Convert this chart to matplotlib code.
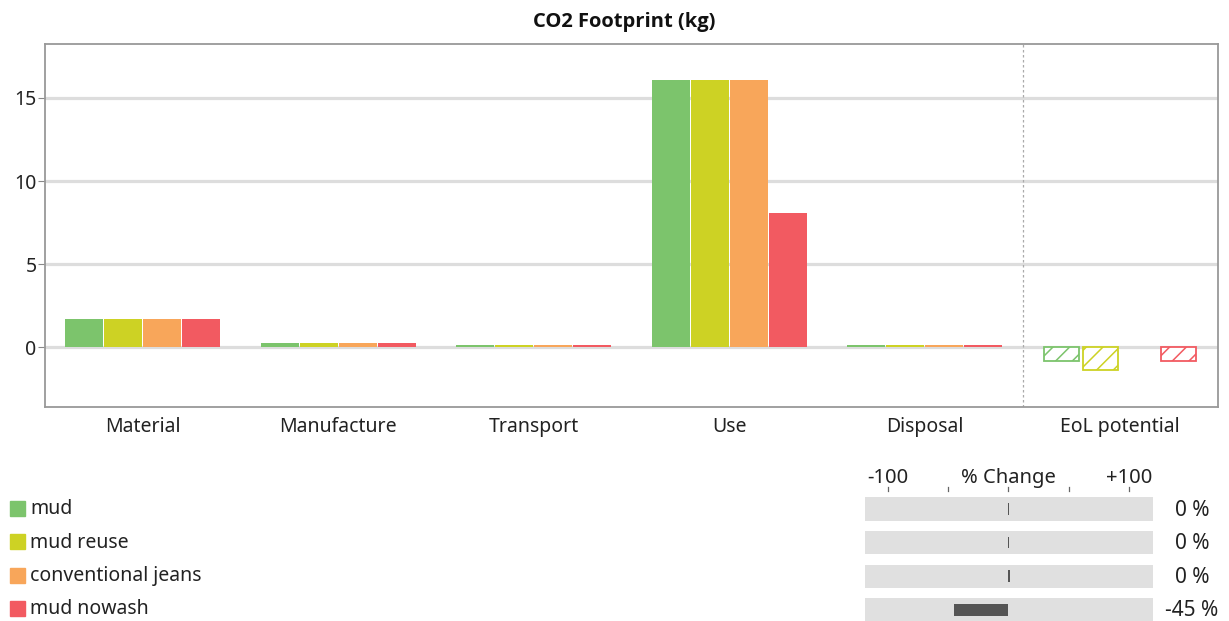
import matplotlib
matplotlib.use("Agg")
import matplotlib.pyplot as plt
import numpy as np
from matplotlib.patches import Rectangle

plt.rcParams['font.family'] = ['Noto Sans', 'DejaVu Sans']
plt.rcParams['hatch.linewidth'] = 1.1

categories = ["Material", "Manufacture", "Transport", "Use", "Disposal", "EoL potential"]
series = ["mud", "mud reuse", "conventional jeans", "mud nowash"]
colors = ["#7CC46C", "#CDD224", "#F8A65A", "#F25A61"]
values = {
    "mud":                [1.68, 0.25, 0.12, 16.1, 0.12, -0.85],
    "mud reuse":          [1.68, 0.25, 0.12, 16.1, 0.12, -1.35],
    "conventional jeans": [1.68, 0.25, 0.12, 16.1, 0.12, 0.0],
    "mud nowash":         [1.68, 0.25, 0.12, 8.07, 0.12, -0.85],
}
yticks = [0, 5, 10, 15]
pct_change = [0, 0, 0, -45]
pct_labels = ["0 %", "0 %", "0 %", "-45 %"]

W, H = 1229, 621
fig = plt.figure(figsize=(W / 100, H / 100), dpi=100)

def fr(x0, y0, x1, y1):
    return [x0 / W, 1 - y1 / H, (x1 - x0) / W, (y1 - y0) / H]

TXT = "#222222"
ax = fig.add_axes(fr(45, 44, 1218, 407))
x = np.arange(len(categories))
bw = 0.2
for i, s in enumerate(series):
    vals = values[s]
    offs = x + (i - 1.5) * bw
    ax.bar(offs[:-1], vals[:-1], width=bw * 0.975, color=colors[i],
           linewidth=0, zorder=3)
    if vals[-1] != 0:
        ax.bar(offs[-1], vals[-1], width=bw * 0.9, facecolor="white",
               edgecolor=colors[i], hatch="//", linewidth=1.3, zorder=3)

ax.set_xlim(-0.5, len(categories) - 0.5)
ax.set_ylim(-3.6, 18.25)
ax.set_yticks(yticks)
ax.set_yticklabels([str(t) for t in yticks], fontsize=14, color=TXT)
ax.set_xticks(x)
ax.set_xticklabels(categories, fontsize=14, color=TXT)
ax.tick_params(axis="x", length=0, pad=7)
ax.tick_params(axis="y", length=5, color="#888888", pad=1)
ax.grid(axis="y", color="#DDDDDD", linewidth=2.3, zorder=0)
ax.set_axisbelow(True)
for sp in ax.spines.values():
    sp.set_color("#999999")
    sp.set_linewidth(1.3)
ax.axvline(4.5, color="#AAAAAA", linestyle=(0, (2, 2)), linewidth=0.9, zorder=1)
fig.text(624 / W, 1 - 22 / H, "CO2 Footprint (kg)",
         ha="center", va="center", fontsize=14.5, fontweight="bold",
         color="#111111", family=["Open Sans", "DejaVu Sans"])

# legend
for i, s in enumerate(series):
    yc = 508 + 33.5 * i
    fig.patches.append(Rectangle((10 / W, 1 - (yc + 7.5) / H), 15 / W, 15 / H,
                                 transform=fig.transFigure, color=colors[i]))
    fig.text(30 / W, 1 - (yc + 1) / H, s, ha="left", va="center", fontsize=14,
             color=TXT)

# % change panel
pax = fig.add_axes([865 / W, -0.6 / H, (1153 - 865) / W, 129.4 / H])
pax.set_xlim(-119, 120)
pax.set_ylim(3.35, -0.5)
pax.axis("off")
for i, v in enumerate(pct_change):
    pax.barh(i, 239, left=-119, height=0.685, color="#E0E0E0", zorder=1)
    if v == 0:
        pax.barh(i, 0.9 if i < 2 else 1.6, left=-0.5, height=0.35, color="#555555", zorder=2)
    else:
        pax.barh(i, -v, left=v, height=0.35, color="#555555", zorder=2)
    fig.text(1192 / W, 1 - (510 + 33.6 * i) / H, pct_labels[i], ha="center",
             va="center", fontsize=15, color=TXT)

for t in [-100, -50, 0, 50, 100]:
    pax.plot([t, t], [-0.65, -0.55], color="#666666", linewidth=0.9,
             clip_on=False)
for t, lab in [(-100, "-100"), (0, "% Change"), (100, "+100")]:
    pax.text(t, -0.93, lab, ha="center", va="center", fontsize=14.5,
             color=TXT, clip_on=False)

fig.savefig("out.png", dpi=100)
